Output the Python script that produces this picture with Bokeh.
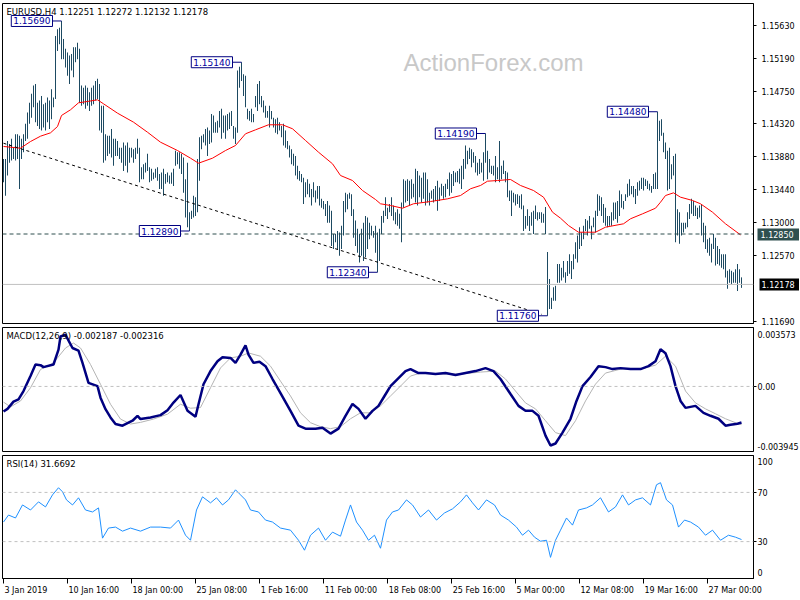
from bokeh.plotting import figure
from bokeh.layouts import column
from bokeh.models import (Range1d, FixedTicker, PrintfTickFormatter, Label,
                          ColumnDataSource, Span, LinearAxis)
from bokeh.embed import file_html
from bokeh.resources import INLINE

# ---------------- data (EURUSD H4, bar index 0 = 3 Jan 2019 00:00) ----------------
high = [
 1.1385, 1.1385, 1.1409, 1.1405, 1.1412, 1.1400, 1.1418, 1.1418, 1.1416, 1.1412,
 1.1418, 1.1432, 1.1447, 1.1460, 1.1472, 1.1483, 1.1485, 1.1460, 1.1463, 1.1469,
 1.1458, 1.1460, 1.1467, 1.1463, 1.1478, 1.1467, 1.1549, 1.1558, 1.1560, 1.1569,
 1.1545, 1.1532, 1.1527, 1.1523, 1.1525, 1.1534, 1.1534, 1.1540, 1.1532, 1.1483,
 1.1480, 1.1483, 1.1480, 1.1474, 1.1480, 1.1483, 1.1489, 1.1492, 1.1485, 1.1456,
 1.1456, 1.1418, 1.1416, 1.1416, 1.1425, 1.1412, 1.1412, 1.1409, 1.1400, 1.1400,
 1.1407, 1.1403, 1.1407, 1.1400, 1.1400, 1.1398, 1.1400, 1.1412, 1.1400, 1.1374,
 1.1378, 1.1380, 1.1392, 1.1374, 1.1372, 1.1367, 1.1372, 1.1374, 1.1365, 1.1367,
 1.1372, 1.1365, 1.1367, 1.1363, 1.1367, 1.1372, 1.1396, 1.1394, 1.1394, 1.1392,
 1.1387, 1.1358, 1.1380, 1.1314,
 1.1316, 1.1336, 1.1334, 1.1385, 1.1414, 1.1416, 1.1418, 1.1425, 1.1427, 1.1423,
 1.1445, 1.1443, 1.1434, 1.1436, 1.1449, 1.1452, 1.1443, 1.1443, 1.1445, 1.1447,
 1.1449, 1.1429, 1.1427, 1.1503, 1.1508, 1.1514, 1.1498, 1.1496, 1.1452, 1.1449,
 1.1452, 1.1445, 1.1469, 1.1485, 1.1489, 1.1469, 1.1463, 1.1456, 1.1449, 1.1456,
 1.1449, 1.1440, 1.1438, 1.1440, 1.1434, 1.1429, 1.1432, 1.1423, 1.1409, 1.1403,
 1.1398, 1.1392, 1.1389, 1.1376, 1.1369, 1.1365, 1.1360, 1.1354, 1.1358, 1.1352,
 1.1345, 1.1354, 1.1343, 1.1349, 1.1349, 1.1332, 1.1329, 1.1325, 1.1329, 1.1323,
 1.1316, 1.1285, 1.1285, 1.1289, 1.1287, 1.1296, 1.1329, 1.1340, 1.1338, 1.1340,
 1.1338, 1.1318, 1.1303, 1.1292, 1.1285, 1.1292, 1.1300, 1.1309, 1.1307, 1.1300,
 1.1296, 1.1289, 1.1296, 1.1287, 1.1292, 1.1309, 1.1316, 1.1334, 1.1320, 1.1325,
 1.1334, 1.1323, 1.1314, 1.1318, 1.1312, 1.1327, 1.1358, 1.1356, 1.1358, 1.1356,
 1.1358, 1.1352, 1.1372, 1.1369, 1.1363, 1.1360, 1.1367, 1.1367, 1.1358, 1.1340,
 1.1343, 1.1345, 1.1349, 1.1356, 1.1347, 1.1352, 1.1349, 1.1352, 1.1358, 1.1367,
 1.1365, 1.1369, 1.1367, 1.1369, 1.1372, 1.1376, 1.1385, 1.1403, 1.1396, 1.1400,
 1.1398, 1.1394, 1.1389, 1.1380, 1.1385, 1.1380, 1.1394, 1.1419, 1.1396, 1.1385,
 1.1376, 1.1376, 1.1389, 1.1374, 1.1409, 1.1376, 1.1383, 1.1369, 1.1367, 1.1343,
 1.1343, 1.1340, 1.1338, 1.1338, 1.1336, 1.1338, 1.1323, 1.1309, 1.1318, 1.1309,
 1.1314, 1.1316, 1.1323, 1.1314, 1.1314, 1.1314, 1.1312,
 1.1321, 1.1261, 1.1225, 1.1200, 1.1214,
 1.1216, 1.1245, 1.1245, 1.1240, 1.1249, 1.1234, 1.1249, 1.1258, 1.1249, 1.1258,
 1.1274, 1.1283, 1.1294, 1.1287, 1.1296, 1.1305, 1.1303, 1.1309, 1.1296, 1.1307,
 1.1316, 1.1338, 1.1336, 1.1334, 1.1325, 1.1320, 1.1309, 1.1309, 1.1314, 1.1327,
 1.1327, 1.1329, 1.1343, 1.1338, 1.1329, 1.1338, 1.1352, 1.1358, 1.1349, 1.1349,
 1.1345, 1.1354, 1.1356, 1.1360, 1.1360, 1.1358, 1.1356, 1.1352, 1.1349, 1.1365,
 1.1367, 1.1448, 1.1436, 1.1438, 1.1420, 1.1407, 1.1396, 1.1400, 1.1378, 1.1389,
 1.1392, 1.1318, 1.1314, 1.1300, 1.1300, 1.1300, 1.1314, 1.1325, 1.1332, 1.1329,
 1.1323, 1.1320, 1.1323, 1.1325, 1.1300, 1.1296, 1.1278, 1.1280, 1.1272, 1.1285,
 1.1280, 1.1269, 1.1265, 1.1258, 1.1258, 1.1258, 1.1236, 1.1238, 1.1236, 1.1234,
 1.1238, 1.1245, 1.1238, 1.12272,
]
low = [
 1.1354, 1.1336, 1.1363, 1.1380, 1.1383, 1.1385, 1.1383, 1.1385, 1.1345, 1.1385,
 1.1394, 1.1409, 1.1412, 1.1432, 1.1440, 1.1454, 1.1434, 1.1429, 1.1425, 1.1423,
 1.1427, 1.1423, 1.1434, 1.1425, 1.1438, 1.1454, 1.1465, 1.1529, 1.1538, 1.1518,
 1.1518, 1.1507, 1.1496, 1.1485, 1.1503, 1.1494, 1.1514, 1.1518, 1.1460, 1.1456,
 1.1458, 1.1452, 1.1456, 1.1449, 1.1456, 1.1458, 1.1463, 1.1465, 1.1423, 1.1420,
 1.1380, 1.1383, 1.1389, 1.1392, 1.1387, 1.1376, 1.1389, 1.1389, 1.1385, 1.1380,
 1.1369, 1.1376, 1.1367, 1.1380, 1.1387, 1.1380, 1.1385, 1.1392, 1.1354, 1.1358,
 1.1358, 1.1367, 1.1369, 1.1354, 1.1356, 1.1358, 1.1360, 1.1356, 1.1345, 1.1345,
 1.1336, 1.1352, 1.1354, 1.1352, 1.1352, 1.1349, 1.1376, 1.1378, 1.1372, 1.1365,
 1.1340, 1.1307, 1.1294, 1.1289,
 1.1305, 1.1307, 1.1309, 1.1314, 1.1356, 1.1398, 1.1407, 1.1403, 1.1389, 1.1405,
 1.1407, 1.1420, 1.1420, 1.1420, 1.1427, 1.1412, 1.1420, 1.1412, 1.1423, 1.1425,
 1.1429, 1.1412, 1.1405, 1.1420, 1.1480, 1.1489, 1.1469, 1.1454, 1.1438, 1.1436,
 1.1434, 1.1434, 1.1454, 1.1449, 1.1458, 1.1454, 1.1447, 1.1440, 1.1440, 1.1427,
 1.1438, 1.1427, 1.1420, 1.1418, 1.1423, 1.1414, 1.1403, 1.1400, 1.1398, 1.1387,
 1.1378, 1.1376, 1.1363, 1.1358, 1.1356, 1.1354, 1.1325, 1.1334, 1.1338, 1.1334,
 1.1323, 1.1334, 1.1327, 1.1332, 1.1323, 1.1320, 1.1318, 1.1309, 1.1300, 1.1300,
 1.1269, 1.1265, 1.1274, 1.1265, 1.1256, 1.1265, 1.1283, 1.1314, 1.1318, 1.1332,
 1.1309, 1.1280, 1.1269, 1.1260, 1.1247, 1.1256, 1.1249, 1.1254, 1.1265, 1.1278,
 1.1283, 1.1280, 1.1260, 1.1234, 1.1249, 1.1285, 1.1300, 1.1309, 1.1305, 1.1314,
 1.1309, 1.1303, 1.1298, 1.1296, 1.1292, 1.1274, 1.1320, 1.1327, 1.1329, 1.1323,
 1.1332, 1.1334, 1.1327, 1.1323, 1.1334, 1.1327, 1.1332, 1.1323, 1.1327, 1.1323,
 1.1332, 1.1327, 1.1329, 1.1316, 1.1329, 1.1336, 1.1332, 1.1334, 1.1345, 1.1336,
 1.1340, 1.1349, 1.1354, 1.1354, 1.1352, 1.1345, 1.1358, 1.1372, 1.1378, 1.1385,
 1.1374, 1.1380, 1.1367, 1.1363, 1.1365, 1.1367, 1.1356, 1.1380, 1.1358, 1.1367,
 1.1365, 1.1363, 1.1354, 1.1358, 1.1354, 1.1358, 1.1365, 1.1354, 1.1334, 1.1329,
 1.1309, 1.1327, 1.1323, 1.1325, 1.1320, 1.1318, 1.1289, 1.1292, 1.1296, 1.1289,
 1.1296, 1.1285, 1.1305, 1.1303, 1.1305, 1.1300, 1.1300,
 1.1285, 1.1176, 1.1185, 1.1185, 1.1196,
 1.1196, 1.1220, 1.1220, 1.1223, 1.1227, 1.1220, 1.1229, 1.1232, 1.1225, 1.1238,
 1.1252, 1.1247, 1.1265, 1.1269, 1.1278, 1.1289, 1.1283, 1.1292, 1.1278, 1.1294,
 1.1287, 1.1309, 1.1316, 1.1309, 1.1300, 1.1296, 1.1294, 1.1296, 1.1296, 1.1303,
 1.1305, 1.1300, 1.1309, 1.1320, 1.1318, 1.1329, 1.1334, 1.1336, 1.1338, 1.1334,
 1.1325, 1.1336, 1.1343, 1.1345, 1.1343, 1.1349, 1.1345, 1.1343, 1.1340, 1.1345,
 1.1345, 1.1345, 1.1409, 1.1416, 1.1394, 1.1385, 1.1343, 1.1345, 1.1358, 1.1363,
 1.1274, 1.1283, 1.1272, 1.1283, 1.1287, 1.1292, 1.1294, 1.1305, 1.1312, 1.1309,
 1.1309, 1.1305, 1.1307, 1.1283, 1.1274, 1.1265, 1.1260, 1.1256, 1.1247, 1.1265,
 1.1243, 1.1245, 1.1243, 1.1240, 1.1238, 1.1227, 1.1212, 1.1220, 1.1218, 1.1220,
 1.1220, 1.1209, 1.1220, 1.12132,
]

# moving average (red), points: (bar index, price)
ma_pts = [
 (0, 1.14017), (8.5, 1.13994), (13.5, 1.14083), (18.5, 1.14154), (23.5, 1.14199),
 (27, 1.14283), (29, 1.1443), (33.5, 1.14506), (37.5, 1.14599), (42, 1.14617),
 (47, 1.14639), (50, 1.14586), (57, 1.14461), (65, 1.14341), (72, 1.14207),
 (78.5, 1.14074), (87, 1.13963), (93.5, 1.13861), (97.5, 1.13794), (104.5, 1.13861),
 (111, 1.13963), (116, 1.1403), (121, 1.14186), (126, 1.14239), (132.5, 1.14306),
 (139.5, 1.14306), (144.5, 1.14253), (151, 1.14097), (157.5, 1.13941), (164.5, 1.13786),
 (168.5, 1.1363), (174.5, 1.13563), (179.5, 1.1343), (186, 1.1331), (188.5, 1.13253),
 (193.5, 1.1323), (199.5, 1.13194), (205, 1.13253), (213.5, 1.13283), (222, 1.13319),
 (228.5, 1.13363), (233.5, 1.13453), (238.5, 1.13497), (242, 1.13554), (247, 1.13563),
 (253.5, 1.13577), (258.5, 1.13497), (265, 1.1343), (270, 1.13341), (274.5, 1.13141),
 (278.5, 1.13061), (282.5, 1.12963), (287.5, 1.12874), (296, 1.12874), (301, 1.12941),
 (310, 1.12986), (313.5, 1.13053), (319.5, 1.13119), (326, 1.13194), (328.5, 1.13274),
 (331, 1.13363), (335, 1.13399), (338.5, 1.13341), (344.5, 1.13297), (348.5, 1.13253),
 (354.5, 1.13141), (361, 1.12986), (368.5, 1.12839),
]

# MACD main line and signal line: (bar index, value)
macd_pts = [
 (0, -0.00152), (2, -0.00136), (5, -0.00092), (7.5, -0.00078), (10, -0.00028),
 (13.5, 0.00063), (16, 0.00133), (18.5, 0.00129), (20, 0.00117), (25, 0.00133),
 (27.5, 0.00223), (28.5, 0.00303), (31, 0.00313), (34.5, 0.00233), (37.5, 0.00217),
 (39.5, 0.00143), (42.5, 0.00022), (47, 0.00002), (48.5, -0.00068), (51, -0.00138),
 (53.5, -0.00188), (56, -0.00228), (59.5, -0.00238), (64.5, -0.00208), (67, -0.00178),
 (68.5, -0.00198), (73.5, -0.00188), (78.5, -0.00174), (82, -0.00144), (85, -0.00098),
 (88.5, -0.00052), (92, -0.00148), (96, -0.00184), (97.5, -0.00108), (100, 0.00013),
 (103.5, 0.00093), (107, 0.00153), (109.5, 0.00177), (113.5, 0.00173), (116, 0.00143),
 (118.5, 0.00193), (121, 0.00249), (122.5, 0.00193), (125, 0.00143), (128, 0.00149),
 (131, 0.00123), (134.5, 0.00045), (138.5, -0.00040), (143.5, -0.00148), (147.5, -0.00238),
 (151, -0.00256), (156, -0.00256), (159.5, -0.00250), (163.5, -0.00286), (167.5, -0.00256),
 (171, -0.00178), (174.5, -0.00106), (177.5, -0.00136), (181, -0.00196), (184.5, -0.00148),
 (187.5, -0.00118), (190.5, -0.00058), (193.5, 0.00002), (197.5, 0.00051), (201, 0.00093),
 (203.5, 0.00105), (207.5, 0.00081), (211, 0.00081), (216, 0.00075), (221, 0.00081),
 (226, 0.00069), (231, 0.00081), (236, 0.00093), (241, 0.00111), (245, 0.00093),
 (248.5, 0.00045), (253.5, -0.00046), (257.5, -0.00118), (261, -0.00148), (264.5, -0.00148),
 (267.5, -0.00178), (271, -0.00298), (273.5, -0.00358), (276, -0.00346), (279.5, -0.00280),
 (283.5, -0.00196), (286.5, -0.00088), (289.5, 0.00002), (293.5, 0.00057), (297.5, 0.00123),
 (301, 0.00117), (304.5, 0.00105), (308.5, 0.00111), (313.5, 0.00105), (318.5, 0.00105),
 (322.5, 0.00123), (326, 0.00153), (328.5, 0.00225), (331, 0.00201), (333.5, 0.00123),
 (336, 0.00002), (338.5, -0.00088), (341, -0.00130), (346, -0.00118), (350, -0.00160),
 (353.5, -0.00178), (357.5, -0.00196), (361, -0.00238), (363.5, -0.00232), (367, -0.00226),
 (369, -0.002187),
]
signal_pts = [
 (0, -0.00095), (3.5, -0.00124), (8.5, -0.00088), (13.5, -0.00008), (18.5, 0.00103),
 (25, 0.00143), (31, 0.00233), (35, 0.00263), (38.5, 0.00233), (43.5, 0.00133),
 (48.5, 0.00013), (53.5, -0.00108), (58.5, -0.00198), (63.5, -0.00228), (68.5, -0.00218),
 (75, -0.00198), (82, -0.00168), (88.5, -0.00108), (93.5, -0.00132), (98.5, -0.00128),
 (103.5, -0.00008), (108.5, 0.00112), (113.5, 0.00173), (118.5, 0.00183), (122.5, 0.00203),
 (128.5, 0.00183), (133.5, 0.00123), (138.5, 0.00032), (143.5, -0.00058), (148.5, -0.00160),
 (153.5, -0.00220), (158.5, -0.00244), (163.5, -0.00256), (168.5, -0.00244), (173.5, -0.00196),
 (178.5, -0.00160), (183.5, -0.00160), (188.5, -0.00118), (193.5, -0.00058), (198.5, 0.00002),
 (203.5, 0.00063), (208.5, 0.00081), (218.5, 0.00075), (228.5, 0.00075), (238.5, 0.00087),
 (246, 0.00093), (251, 0.00045), (256, -0.00028), (261, -0.00100), (266, -0.00136),
 (271, -0.00208), (276, -0.00280), (281, -0.00298), (286, -0.00208), (291, -0.00088),
 (296, 0.00014), (301, 0.00081), (308.5, 0.00105), (318.5, 0.00105), (326, 0.00129),
 (331, 0.00183), (336, 0.00123), (341, -0.00028), (346, -0.00100), (351, -0.00136),
 (356, -0.00166), (361, -0.00196), (366, -0.00220), (369, -0.002316),
]

# RSI(14): (bar index, value)
rsi_pts = [
 (0, 45.9), (2.5, 51.6), (6, 49.2), (9.5, 59.8), (13.5, 55.7), (17.5, 62.3), (21, 58.2),
 (24.5, 68.0), (27.5, 73.8), (29.5, 70.5), (31.5, 63.9), (34.5, 59.8), (37.5, 65.6),
 (41, 55.7), (44.5, 54.1), (47.5, 57.4), (49.5, 32.8), (52.5, 41.0), (56, 41.8),
 (59.5, 38.5), (63.5, 41.0), (68.5, 38.5), (73.5, 41.8), (78.5, 41.8), (83.5, 41.0),
 (87.5, 47.5), (91, 35.2), (93.5, 31.1), (96.5, 55.7), (99.5, 66.4), (103.5, 61.5),
 (106.5, 65.6), (109.5, 59.8), (112.5, 63.9), (116, 72.1), (118.5, 68.0), (121, 63.9),
 (123.5, 55.7), (127.5, 54.1), (131, 47.5), (134.5, 45.9), (138.5, 41.0), (143.5, 39.3),
 (147.5, 31.1), (150.5, 23.0), (153.5, 35.2), (157.5, 41.0), (161, 31.1), (164.5, 37.7),
 (168.5, 34.4), (171, 47.5), (173.5, 59.8), (176.5, 45.9), (179.5, 39.3), (182.5, 31.1),
 (185.5, 35.2), (188.5, 24.6), (191.5, 47.5), (194.5, 54.1), (197.5, 55.7), (201.5, 63.9),
 (204.5, 59.8), (208.5, 50.0), (212.5, 55.7), (216.5, 47.5), (220.5, 53.3), (224.5, 56.6),
 (228.5, 62.3), (231.5, 68.0), (234.5, 61.5), (237.5, 55.7), (241.5, 63.9), (245.5, 59.8),
 (248.5, 51.6), (252.5, 47.5), (256.5, 41.8), (259.5, 35.2), (262.5, 39.3), (265.5, 33.6),
 (268.5, 30.3), (271.5, 31.1), (273.5, 17.2), (276, 31.1), (278.5, 39.3), (281.5, 49.2),
 (284.5, 43.4), (287.5, 55.7), (291.5, 57.4), (294.5, 59.8), (298.5, 65.6), (302.5, 54.1),
 (306, 58.2), (309.5, 68.0), (312.5, 59.8), (316, 63.9), (319.5, 65.6), (323.5, 59.8),
 (326.5, 76.2), (328.5, 77.9), (331.5, 63.9), (334.5, 59.8), (337.5, 41.8), (340.5, 47.5),
 (343.5, 45.9), (347.5, 41.8), (351, 35.2), (354.5, 39.3), (358.5, 31.1), (362.5, 35.2),
 (366, 33.6), (369, 31.67),
]

# marked swing points: (bar index, price)
swing_pts = [(29, 1.1569), (119, 1.1514), (93, 1.1289), (187, 1.1234),
             (241, 1.1419), (272, 1.1176), (327, 1.1448)]
trend_pts = [(0, 1.1406), (269, 1.1178)]
support_level = 1.1285
last_price = 1.12178

price_ticks = [1.1563, 1.1519, 1.1475, 1.1432, 1.1388, 1.1344, 1.1300, 1.1257, 1.1169]
time_tick_idx = [0, 32, 64, 96, 128, 160, 192, 224, 256, 288, 320, 352]
time_tick_lab = ["3 Jan 2019", "10 Jan 16:00", "18 Jan 00:00", "25 Jan 08:00", "1 Feb 16:00",
                 "11 Feb 00:00", "18 Feb 08:00", "25 Feb 16:00", "5 Mar 00:00",
                 "12 Mar 08:00", "19 Mar 16:00", "27 Mar 00:00"]
macd_max, macd_min = 0.003573, -0.003945
rsi_levels = [70, 30]

# ---------------- styling ----------------
FONT = "DejaVu Sans"
FS = "8px"
BAR = "#1d4a62"
FW = 751
X0 = -0.5
X1 = X0 + FW / 2.0            # two screen px per bar
xr = Range1d(X0, X1)
PPI = FW / (X1 - X0)

# approximate DejaVu Sans advance widths (em) used to left-align time labels
CW = {" ": 0.318, ":": 0.337, "J": 0.295, "a": 0.613, "n": 0.634, "F": 0.575,
      "e": 0.615, "b": 0.635, "M": 0.863, "r": 0.411, ".": 0.318}
for d in "0123456789":
    CW[d] = 0.636


def text_w(s, fs=8.0):
    return sum(CW.get(c, 0.6) for c in s) * fs


def panel(fh, yr, top, bottom, xaxis):
    p = figure(frame_width=FW, frame_height=fh, x_range=xr, y_range=yr,
               output_backend="svg", toolbar_location=None, title=None,
               y_axis_location="right", x_axis_location="below" if xaxis else None,
               min_border_left=2, min_border_top=top, min_border_bottom=bottom,
               min_border_right=46, background_fill_color="white",
               border_fill_color="white")
    p.outline_line_color = "black"
    p.outline_line_width = 1
    p.xgrid.visible = False
    p.ygrid.visible = False
    ax = p.yaxis[0]
    ax.major_tick_out = 0
    ax.major_tick_in = 0
    ax.minor_tick_out = 3
    ax.minor_tick_in = 0
    ax.minor_tick_line_color = "black"
    ax.axis_line_color = "black"
    ax.major_label_text_font = FONT
    ax.major_label_text_font_size = FS
    ax.major_label_text_color = "black"
    ax.major_label_standoff = 1
    return p


def title_label(p, txt, x, y):
    p.add_layout(Label(x=x, y=y, x_offset=4, y_offset=-3, text=txt, text_font=FONT,
                       text_font_size="8.5px", text_color="black", text_align="left",
                       text_baseline="top"))


# ---------------- main price panel ----------------
ylo, yhi = 1.11657, 1.15923
p1 = panel(320, Range1d(ylo, yhi), 3, 3, False)
p1.yaxis[0].ticker = FixedTicker(ticks=price_ticks, minor_ticks=price_ticks)
p1.yaxis[0].formatter = PrintfTickFormatter(format="%.5f")
p1.yaxis[0].major_label_standoff = 5

# price tags on the scale: a wide tick acts as the tag background
tag_specs = [(support_level, "#2f4f4f", 2, 40, -39), (last_price, "black", 4, 38, -40)]
for lvl, bg, t_out, t_in, standoff in tag_specs:
    bx = LinearAxis(ticker=FixedTicker(ticks=[lvl]),
                    formatter=PrintfTickFormatter(format="%.5f"))
    bx.major_tick_out = t_out
    bx.major_tick_in = t_in
    bx.major_tick_line_width = 12
    bx.major_tick_line_color = bg
    bx.minor_tick_out = 0
    bx.minor_tick_in = 0
    bx.axis_line_color = None
    bx.major_label_text_font = FONT
    bx.major_label_text_font_size = FS
    bx.major_label_text_color = "white"
    bx.major_label_standoff = standoff
    p1.add_layout(bx, "right")

p1.add_layout(Label(x=200, y=1.15143, text="ActionForex.com", text_font="Liberation Sans",
                    text_font_size="24px", text_color="#c8c8c8", text_align="left",
                    text_baseline="middle"))

p1.add_layout(Span(location=support_level, dimension="width", line_color="#2f4f4f",
                   line_dash="4 3", line_width=1))
p1.add_layout(Span(location=last_price, dimension="width", line_color="#c0c0c0",
                   line_width=1))

src = ColumnDataSource(dict(i=list(range(len(high))), hi=high, lo=low))
p1.segment(x0="i", y0="lo", x1="i", y1="hi", source=src, line_color=BAR, line_width=1)

p1.line([a for a, b in ma_pts], [b for a, b in ma_pts], line_color="#ff0000", line_width=1)
p1.line([a for a, b in trend_pts], [b for a, b in trend_pts], line_color="black",
        line_dash="3 3", line_width=1)

off = 4.5
p1.segment(x0=[a - off for a, b in swing_pts], y0=[b for a, b in swing_pts],
           x1=[a for a, b in swing_pts], y1=[b for a, b in swing_pts],
           line_color="#000080", line_width=1)
for a, b in swing_pts:
    p1.add_layout(Label(x=a - off, y=b, text="%.5f" % b, text_font=FONT,
                        text_font_size="9px", text_color="#0000a0", text_align="right",
                        text_baseline="middle", background_fill_color="white",
                        border_line_color="#000080", border_line_width=1, padding=2))
title_label(p1, "EURUSD,H4  1.12251 1.12272 1.12132 1.12178", X0, yhi)

# ---------------- MACD panel ----------------
FH2 = 124
p2 = panel(FH2, Range1d(macd_min, macd_max), 1, 3, False)
u2 = (macd_max - macd_min) / FH2            # value per screen px
m_top = macd_max - 7.0 * u2
m_bot = macd_min + 5.5 * u2
p2.yaxis[0].ticker = FixedTicker(ticks=[m_bot, 0, m_top], minor_ticks=[0])
p2.yaxis[0].major_label_overrides = {m_top: "%.6f" % macd_max, 0: "0.00",
                                     m_bot: "%.6f" % macd_min}
p2.add_layout(Span(location=0, dimension="width", line_color="#c0c0c0", line_dash="3 3"))
p2.line([a for a, b in signal_pts], [b for a, b in signal_pts], line_color="#b4b4b4",
        line_width=1)
p2.line([a for a, b in macd_pts], [b for a, b in macd_pts], line_color="#000080",
        line_width=2.5)
title_label(p2, "MACD(12,26,9) -0.002187 -0.002316", X0, macd_max)

# ---------------- RSI panel ----------------
FH3 = 123
p3 = panel(FH3, Range1d(0, 100), 1, 20, True)
u3 = 100.0 / FH3
r_top = 100 - 5.5 * u3
r_bot = 0 + 6.0 * u3
p3.yaxis[0].ticker = FixedTicker(ticks=[r_bot, 30, 70, r_top], minor_ticks=rsi_levels)
p3.yaxis[0].major_label_overrides = {r_top: "100", 70: "70", 30: "30", r_bot: "0"}
for lv in rsi_levels:
    p3.add_layout(Span(location=lv, dimension="width", line_color="#c0c0c0", line_dash="3 3"))
p3.line([a for a, b in rsi_pts], [b for a, b in rsi_pts], line_color="#1e90ff", line_width=1)
title_label(p3, "RSI(14) 31.6692", X0, 100)

# time axis: tick marks (minor) at the bar times, labels start just right of them
lab_pos = [t + (1 + text_w(s) / 2) / PPI for t, s in zip(time_tick_idx, time_tick_lab)]
xa = p3.xaxis[0]
xa.ticker = FixedTicker(ticks=lab_pos, minor_ticks=time_tick_idx)
xa.major_label_overrides = {pos: s for pos, s in zip(lab_pos, time_tick_lab)}
xa.major_tick_out = 0
xa.major_tick_in = 0
xa.minor_tick_out = 5
xa.minor_tick_in = 0
xa.minor_tick_line_color = "black"
xa.major_label_standoff = 2
xa.major_label_text_font = FONT
xa.major_label_text_font_size = FS
xa.major_label_text_color = "black"
xa.axis_line_color = "black"

layout = column(p1, p2, p3, spacing=0)
open("out.html", "w").write(file_html(layout, INLINE))
